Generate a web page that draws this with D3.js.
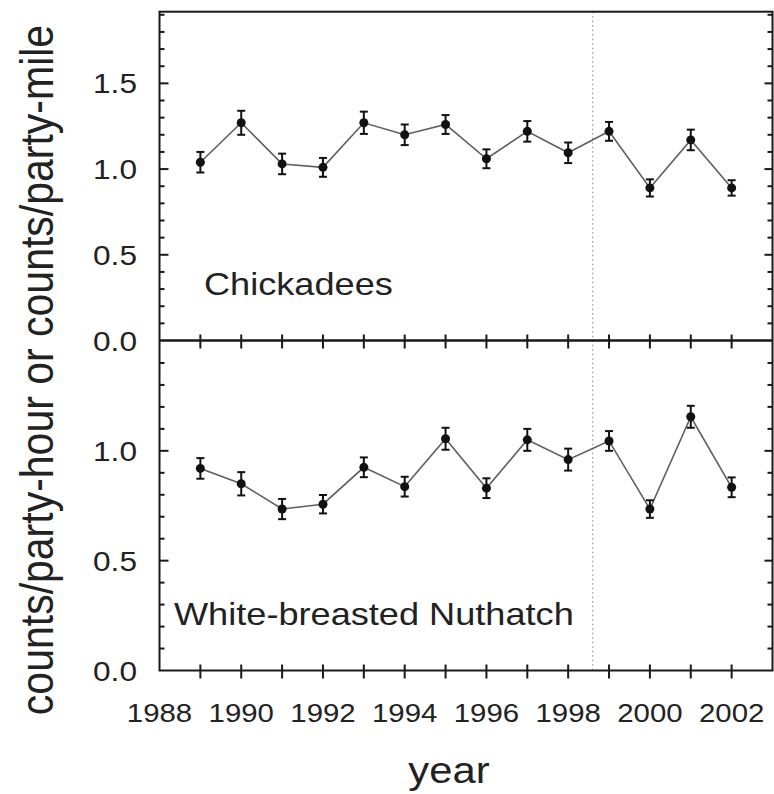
<!DOCTYPE html>
<html>
<head>
<meta charset="utf-8">
<script src="https://cdn.jsdelivr.net/npm/d3@7"></script>
<style>
  html, body { margin: 0; padding: 0; background: #fff; }
  svg { display: block; }
  text { font-family: "Liberation Sans", Arial, sans-serif; fill: #222; }
</style>
</head>
<body>
<svg id="chart" width="774" height="794" xmlns="http://www.w3.org/2000/svg"></svg>
<script>
// ---- data ----
const years = [1989,1990,1991,1992,1993,1994,1995,1996,1997,1998,1999,2000,2001,2002];
const chickadeeValues = [1.04,1.27,1.03,1.01,1.27,1.20,1.26,1.06,1.22,1.095,1.22,0.89,1.17,0.89];
const chickadeeErrors = [0.06,0.07,0.06,0.055,0.065,0.06,0.055,0.055,0.06,0.06,0.055,0.05,0.06,0.045];
const nuthatchValues = [0.92,0.85,0.735,0.757,0.925,0.837,1.055,0.83,1.05,0.96,1.045,0.735,1.155,0.834];
const nuthatchErrors = [0.047,0.053,0.046,0.042,0.045,0.045,0.05,0.045,0.05,0.05,0.045,0.04,0.05,0.045];
const xTickLabels = [1988,1990,1992,1994,1996,1998,2000,2002];
const topYLabels = [0.0,0.5,1.0,1.5];
const bottomYLabels = [0.0,0.5,1.0];
const topMinorTicks = [0.1,0.2,0.3,0.4,0.6,0.7,0.8,0.9,1.1,1.2,1.3,1.4,1.6,1.7,1.8,1.9];
const topMajorTicks = [0.5,1.0,1.5];
const botMinorTicks = [0.1,0.2,0.3,0.4,0.6,0.7,0.8,0.9,1.1,1.2,1.3,1.4];
const botMajorTicks = [0.5,1.0];
const dividerYear = 1998.6;
const panelNames = ["Chickadees","White-breasted Nuthatch"];

const SX = 1.13; // horizontal stretch of text in the reference

const svg = d3.select("#chart");
const x = d3.scaleLinear().domain([1988,2003]).range([159.5,772.5]);
const yTop = d3.scaleLinear().domain([0,1.918]).range([340.5,11.7]);
const yBot = d3.scaleLinear().domain([0,1.5]).range([670.5,341]);

const axisColor = "#1a1a1a";
const X0 = x.range()[0], X1 = x.range()[1];

function drawPanel(y, values, errors, yLabels, name, labelPos) {
  const g = svg.append("g");
  yLabels.forEach(v => {
    g.append("text")
      .attr("transform", `translate(137,${y(v)}) scale(${SX},1)`)
      .attr("text-anchor", "end").attr("dy", "0.36em")
      .attr("font-size", 28).text(d3.format(".1f")(v));
  });
  const line = d3.line().x((d,i) => x(years[i])).y(d => y(d));
  g.append("path").datum(values).attr("d", line)
    .attr("fill", "none").attr("stroke", "#5e5e5e").attr("stroke-width", 1.6);
  values.forEach((v,i) => {
    const cx = x(years[i]);
    const e = errors[i];
    g.append("line").attr("x1", cx).attr("x2", cx).attr("y1", y(v+e)).attr("y2", y(v-e))
      .attr("stroke", "#111").attr("stroke-width", 2);
    [v+e, v-e].forEach(w => {
      g.append("line").attr("x1", cx-4).attr("x2", cx+4).attr("y1", y(w)).attr("y2", y(w))
        .attr("stroke", "#111").attr("stroke-width", 2);
    });
  });
  g.selectAll("circle.pt").data(values).enter().append("circle")
    .attr("cx", (d,i) => x(years[i])).attr("cy", d => y(d)).attr("r", 4.5).attr("fill", "#111");
  g.append("text")
    .attr("transform", `translate(${labelPos[0]},${labelPos[1]}) scale(${SX},1)`)
    .attr("font-size", 32).text(name);
}

// tick marks drawn as thin filled rectangles
function drawTicks(y, minorT, majorT) {
  const g = svg.append("g");
  const rects = [];
  minorT.forEach(t => {
    rects.push({x: X0, y: y(t) - 1, w: 5, h: 2});
    rects.push({x: X1 - 5, y: y(t) - 1, w: 5, h: 2});
  });
  majorT.forEach(t => {
    rects.push({x: X0, y: y(t) - 1, w: 9, h: 2});
    rects.push({x: X1 - 8, y: y(t) - 1, w: 8, h: 2});
  });
  years.forEach(yr => {
    rects.push({x: x(yr) - 1, y: y(0) - 6, w: 2, h: 14});
  });
  rects.forEach(r => {
    g.append("rect").attr("x", r.x).attr("y", r.y).attr("width", r.w).attr("height", r.h)
      .attr("fill", "#1a1a1a");
  });
}

svg.append("line").attr("x1", x(dividerYear)).attr("x2", x(dividerYear))
  .attr("y1", yTop.range()[1]).attr("y2", yBot.range()[0])
  .attr("stroke", "#888").attr("stroke-width", 1).attr("stroke-dasharray", "1.5,3");

drawPanel(yTop, chickadeeValues, chickadeeErrors, topYLabels, panelNames[0], [204,295]);
drawPanel(yBot, nuthatchValues, nuthatchErrors, bottomYLabels, panelNames[1], [174,625]);

svg.append("rect").attr("x", X0).attr("y", yTop.range()[1])
  .attr("width", X1-X0).attr("height", yBot.range()[0]-yTop.range()[1])
  .attr("fill", "none").attr("stroke", axisColor).attr("stroke-width", 2);
svg.append("line").attr("x1", X0).attr("x2", X1)
  .attr("y1", yTop(0)).attr("y2", yTop(0)).attr("stroke", axisColor).attr("stroke-width", 2.5);

drawTicks(yTop, topMinorTicks, topMajorTicks);
drawTicks(yBot, botMinorTicks, botMajorTicks);

xTickLabels.forEach(yr => {
  svg.append("text")
    .attr("transform", `translate(${x(yr)},722) scale(${SX},1)`)
    .attr("text-anchor", "middle").attr("font-size", 26).text(yr);
});

svg.append("text")
  .attr("transform", `translate(449,783) scale(${SX},1)`)
  .attr("text-anchor", "middle").attr("font-size", 37).text("year");
svg.append("text")
  .attr("transform", `translate(53,370) rotate(-90) scale(1,${SX})`)
  .attr("text-anchor", "middle").attr("font-size", 41).text("counts/party-hour or counts/party-mile");
</script>
</body>
</html>
